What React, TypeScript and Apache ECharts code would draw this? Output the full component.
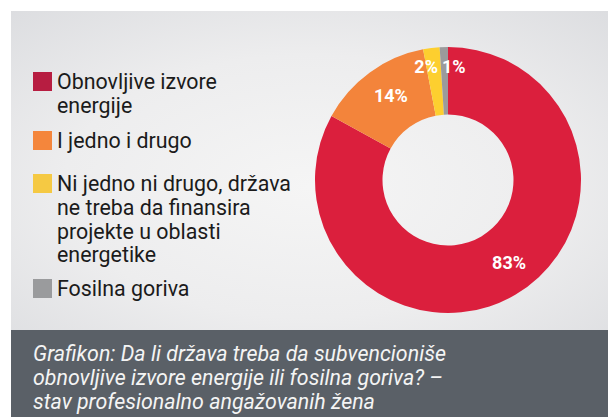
import React, { useEffect, useRef } from "react";
import * as echarts from "echarts";

const categories = [
  "Obnovljive izvore energije",
  "I jedno i drugo",
  "Ni jedno ni drugo, država ne treba da finansira projekte u oblasti energetike",
  "Fosilna goriva",
];
const legendLines = [
  ["Obnovljive izvore", "energije"],
  ["I jedno i drugo"],
  ["Ni jedno ni drugo, država", "ne treba da finansira", "projekte u oblasti", "energetike"],
  ["Fosilna goriva"],
];
const values = [83, 14, 2, 1];
const sliceColors = ["#db1f3d", "#f3843b", "#fdcf2f", "#9b9b9c"];
const legendColors = ["#b71d41", "#f4863c", "#f5c943", "#9a9b9d"];
const caption = [
  "Grafikon: Da li država treba da subvencioniše",
  "obnovljive izvore energije ili fosilna goriva? –",
  "stav profesionalno angažovanih žena",
];

// layout (style) constants
const legendTops = [72, 131, 174, 279];
const LEGEND_LH = 23.8;
const labelShift = [
  [9, -6],
  [3, -2],
  [-9, -12],
  [9, -11],
];

export default function App() {
  const ref = useRef<HTMLDivElement>(null);
  useEffect(() => {
    document.body.style.margin = "0";
    const chart = echarts.init(ref.current!, null, { renderer: "svg" });
    const legendGraphics: any[] = [];
    categories.forEach((c, i) => {
      legendGraphics.push({
        type: "rect",
        shape: { x: 33, y: legendTops[i], width: 19, height: 19 },
        style: { fill: legendColors[i] },
      });
      legendGraphics.push({
        type: "text",
        x: 57,
        y: legendTops[i] + 9.5 - LEGEND_LH / 2,
        style: {
          text: legendLines[i].join("\n"),
          font: "21.4px Roboto",
          fill: "#1b1b1b",
          lineHeight: LEGEND_LH,
          verticalAlign: "top",
        },
      });
    });

    chart.setOption({
      animation: false,
      graphic: [
        {
          type: "rect",
          z: -10,
          shape: { x: 11, y: 11, width: 597, height: 319 },
          style: {
            fill: {
              type: "radial",
              x: 0.5,
              y: 0.55,
              r: 0.75,
              colorStops: [
                { offset: 0, color: "#f5f5f5" },
                { offset: 0.55, color: "#ededee" },
                { offset: 1, color: "#dcdde0" },
              ],
            },
          },
        },
        {
          type: "rect",
          z: -10,
          shape: { x: 11, y: 330, width: 597, height: 87 },
          style: { fill: "#5a6067" },
        },
        {
          type: "text",
          x: 33,
          y: 341,
          style: {
            text: caption.join("\n"),
            font: "italic 21.4px Roboto",
            fill: "#f4f4f4",
            lineHeight: 24,
            verticalAlign: "top",
          },
        },
        ...legendGraphics,
      ],
      series: [
        {
          type: "pie",
          center: [448, 180],
          radius: [65.5, 133],
          startAngle: 90,
          clockwise: true,
          silent: true,
          label: {
            show: true,
            position: "inside",
            formatter: "{c}%",
            color: "#ffffff",
            fontFamily: "Roboto",
            fontWeight: "bold",
            fontSize: 18,
          },
          labelLine: { show: false },
          labelLayout: (p: any) => ({
            dx: labelShift[p.dataIndex][0],
            dy: labelShift[p.dataIndex][1],
          }),
          data: categories.map((c, i) => ({
            name: c,
            value: values[i],
            itemStyle: { color: sliceColors[i] },
          })),
        },
      ],
    });
    return () => chart.dispose();
  }, []);
  return <div ref={ref} style={{ width: 608, height: 417, background: "#ffffff" }} />;
}
